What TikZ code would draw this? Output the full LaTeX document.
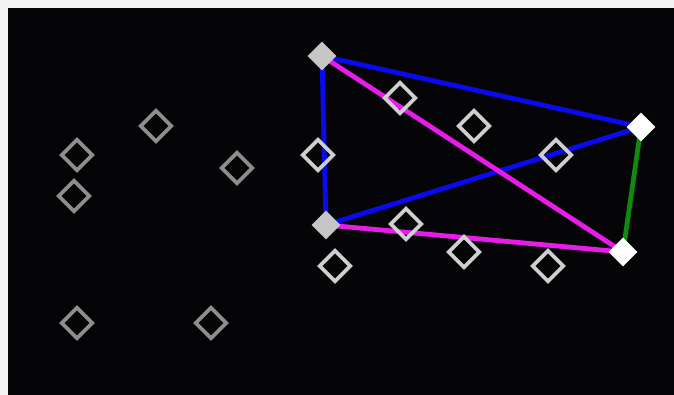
\documentclass[tikz,border=0pt]{standalone}
\usetikzlibrary{shapes.geometric,backgrounds}
\definecolor{bgpaper}{HTML}{F4F4F4}
\definecolor{bgdark}{HTML}{050508}
\definecolor{dimgray}{HTML}{8E8E8E}
\definecolor{litegray}{HTML}{CFCFCF}
\definecolor{fillgray}{HTML}{C6C6C6}
\definecolor{edgeblue}{HTML}{0A0AF0}
\definecolor{edgemag}{HTML}{E81CE8}
\definecolor{edgegreen}{HTML}{0E8A0E}

\begin{document}
\begin{tikzpicture}[
  x=0.5pt,y=-0.5pt,
  hollow/.style={diamond,draw,line width=1.8pt,inner sep=0pt,minimum size=16pt},
  solid/.style={diamond,inner sep=0pt,minimum size=14.5pt},
  link/.style={line width=2.4pt},
]
\useasboundingbox (0,0) rectangle (674,395);
% hollow markers, left group
\foreach \n/\x/\y in {p1/77/155, p2/74/196, p3/156/126, p4/237/168,
                      p5/77/323, p6/211/323}{
  \node[hollow,draw=dimgray] (\n) at (\x,\y) {};
}
% hollow markers, right group
\foreach \n/\x/\y in {q1/318/155, q2/335/266, q3/400/98, q4/474/126,
                      q5/556/155, q6/406/224, q7/464/252, q8/548/266}{
  \node[hollow,draw=litegray] (\n) at (\x,\y) {};
}
% filled markers
\node[solid,fill=fillgray] (a1) at (322,56) {};
\node[solid,fill=fillgray] (a2) at (326,225) {};
\node[solid,fill=white] (b1) at (641,127) {};
\node[solid,fill=white] (b2) at (623,252) {};
\begin{scope}[on background layer]
  \fill[bgpaper] (0,0) rectangle (674,395);
  \fill[bgdark] (8,8) rectangle (674,395);
  \draw[link,edgeblue] (a1.center) -- (a2.center);
  \draw[link,edgeblue] (a1.center) -- (b1.center);
  \draw[link,edgeblue] (a2.center) -- (b1.center);
  \draw[link,edgemag] (a1.center) -- (b2.center);
  \draw[link,edgemag] (a2.center) -- (b2.center);
  \draw[link,edgegreen] (b1.center) -- (b2.center);
\end{scope}
\end{tikzpicture}
\end{document}
